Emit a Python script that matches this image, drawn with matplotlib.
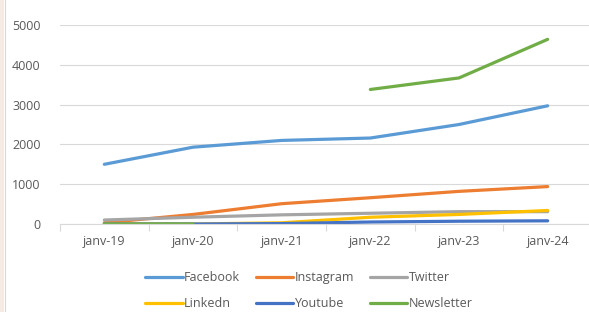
import numpy as np
import matplotlib
matplotlib.use("Agg")
import matplotlib.pyplot as plt
from matplotlib.patches import Rectangle
from matplotlib.lines import Line2D

categories = ["janv-19", "janv-20", "janv-21", "janv-22", "janv-23", "janv-24"]
facebook = [1500, 1930, 2100, 2160, 2500, 2970]
instagram = [30, 240, 510, 660, 820, 940]
twitter = [100, 170, 230, 270, 310, 310]
linkedn = [0, 0, 30, 170, 240, 340]
youtube = [0, 0, 10, 50, 70, 80]
newsletter = [0, 0, np.nan, 3380, 3670, 4640]

series = [
    ("Facebook", facebook, "#5B9BD5"),
    ("Instagram", instagram, "#ED7D31"),
    ("Twitter", twitter, "#A5A5A5"),
    ("Linkedn", linkedn, "#FFC000"),
    ("Youtube", youtube, "#4472C4"),
    ("Newsletter", newsletter, "#70AD47"),
]

plt.rcParams['font.family'] = ['Open Sans', 'DejaVu Sans']
txt = "#595959"

fig = plt.figure(figsize=(5.89, 3.12), dpi=100)
fig.patches.append(Rectangle((0, 0), 4/589, 1, transform=fig.transFigure,
                             facecolor="#f5ebe2", edgecolor="none", zorder=0))
fig.lines.append(Line2D([4.5/589, 4.5/589], [0, 1], transform=fig.transFigure,
                        color="#d8d8d8", lw=0.8))

ax = fig.add_axes([60/589, 88/312, 532/589, 199/312])
x = np.arange(len(categories))
handles = []
for name, vals, col in series:
    h, = ax.plot(x, vals, color=col, lw=2.3, label=name, solid_capstyle='round')
    handles.append(h)

ax.set_xlim(-0.5, 5.5)
ax.set_ylim(0, 5000)
ax.set_yticks([0, 1000, 2000, 3000, 4000, 5000])
ax.set_xticks(x)
ax.set_xticklabels(categories)
ax.set_xticks(np.arange(-0.5, 6, 1), minor=True)
ax.tick_params(axis='x', which='major', length=0, pad=8, labelsize=9, labelcolor=txt)
ax.tick_params(axis='x', which='minor', length=5, color="#d9d9d9", width=0.8)
ax.tick_params(axis='y', length=0, pad=14, labelsize=9, labelcolor=txt)
ax.grid(axis='y', color="#d9d9d9", lw=0.8)
ax.set_axisbelow(True)
for s in ["top", "right", "left"]:
    ax.spines[s].set_visible(False)
ax.spines["bottom"].set_color("#d9d9d9")
ax.spines["bottom"].set_linewidth(0.8)

order = [0, 3, 1, 4, 2, 5]
leg = fig.legend([handles[i] for i in order], [series[i][0] for i in order],
                 loc="lower center", bbox_to_anchor=(309/589, -0.031), ncol=3,
                 frameon=False, fontsize=9, handlelength=3.0, handletextpad=0.1,
                 columnspacing=1.25, labelspacing=1.05)
for t in leg.get_texts():
    t.set_color(txt)

fig.savefig("out.png", dpi=100)
